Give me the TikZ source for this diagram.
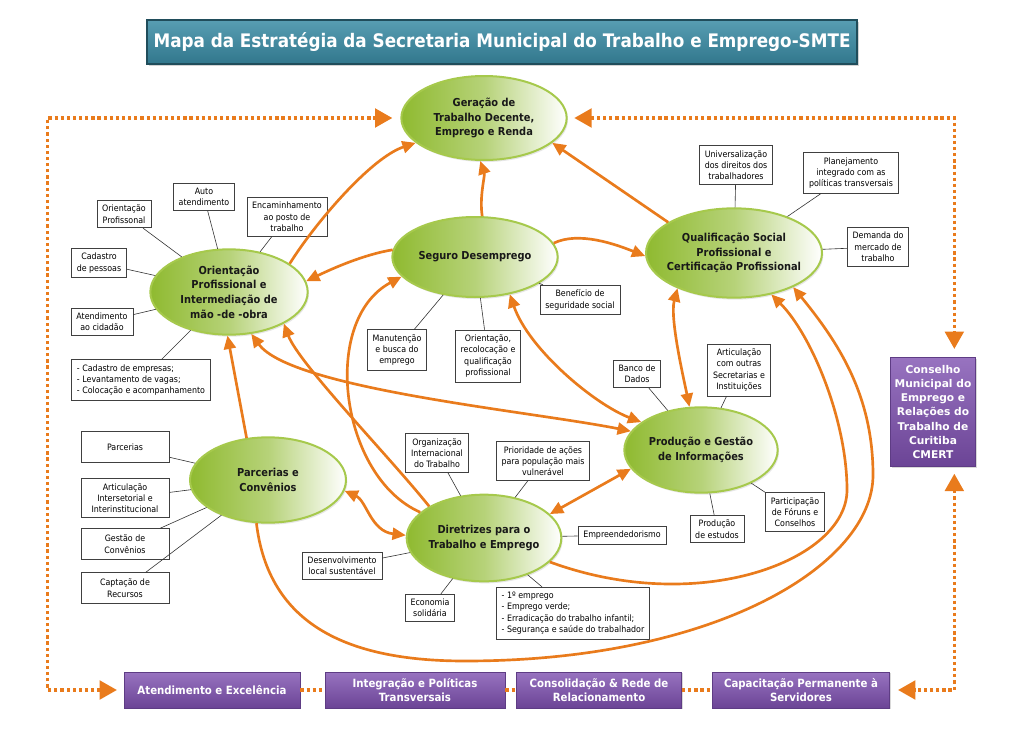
\documentclass[tikz,border=0pt]{standalone}
\usepackage{fontspec}
\setmainfont{DejaVu Sans}
\newfontfamily\narrowfont{DejaVu Sans Condensed}
\usetikzlibrary{shapes.geometric,arrows.meta,shadows}
\definecolor{Flow}{HTML}{E97B1C}
\definecolor{Lime}{HTML}{8FBA30}
\definecolor{Leaf}{HTML}{A6C94C}
\definecolor{Teal}{HTML}{3A8CA5}
\definecolor{Plum}{HTML}{7E50B0}

\tikzset{
  goal/.style={ellipse, draw=Leaf, line width=1.5pt, left color=Lime, right color=white, middle color=Lime!65,
    inner xsep=-8pt, inner ysep=0pt, align=center, text=black!90,
    font=\narrowfont\bfseries\fontsize{8.2}{11}\selectfont,
    drop shadow={opacity=.2, shadow xshift=1pt, shadow yshift=-1.5pt}},
  info/.style={draw=black!75, fill=white, line width=.5pt, align=center, inner xsep=4pt, inner ysep=3.5pt,
    font=\narrowfont\fontsize{6.6}{8.5}\selectfont},
  side/.style={minimum width=66pt, minimum height=23pt},
  link/.style={draw=black!80, line width=.45pt},
  flow/.style={draw=Flow, line width=2pt},
  dotline/.style={draw=Flow, line width=2.4pt, dash pattern=on 2.4pt off 2.2pt},
  dotflow/.style={dotline, {Triangle[length=13pt,width=14pt]}-{Triangle[length=13pt,width=14pt]},
    shorten <=5pt, shorten >=6pt},
  heading/.style={top color=Teal!85!white, bottom color=Teal!85!black, draw=Teal!55!black, line width=1.5pt,
    text=white, font=\narrowfont\bfseries\fontsize{14}{16}\selectfont, minimum width=532pt, minimum height=33pt,
    drop shadow={opacity=.35, shadow xshift=1.5pt, shadow yshift=-1.5pt}},
  plan/.style={top color=Plum!80!white, bottom color=Plum!85!black, draw=Plum!75!black, line width=.6pt,
    text=white, align=center, font=\narrowfont\bfseries\fontsize{8.5}{10.5}\selectfont, minimum height=27pt,
    drop shadow={opacity=.3, shadow xshift=1pt, shadow yshift=-1pt}},
  council/.style={plan, font=\bfseries\fontsize{8}{10.6}\selectfont, minimum width=64pt, minimum height=82pt}
}

\begin{document}
\begin{tikzpicture}[x=0.75pt,y=-0.75pt,>={Triangle[length=10pt,width=9pt]}]
\useasboundingbox (0,0) rectangle (1024,728);

\node[heading] (title) at (502,42) {Mapa da Estratégia da Secretaria Municipal do Trabalho e Emprego-SMTE};

% objetivos
\node[goal, minimum width=124pt, minimum height=63pt] (gen) at (484,118) {Geração de\\Trabalho Decente,\\Emprego e Renda};
\node[goal, minimum width=124pt, minimum height=60pt] (seg) at (475,257) {Seguro Desemprego};
\node[goal, minimum width=118pt, minimum height=64pt] (ori) at (229,292) {Orientação\\Profissional e\\Intermediação de\\mão -de -obra};
\node[goal, minimum width=132pt, minimum height=67pt] (qua) at (734,253) {Qualificação Social\\Profissional e\\Certificação Profissional};
\node[goal, minimum width=115pt, minimum height=64pt] (pro) at (701,450) {Produção e Gestão\\de Informações};
\node[goal, minimum width=117pt, minimum height=64pt] (par) at (268,480) {Parcerias e\\Convênios};
\node[goal, minimum width=116pt, minimum height=65pt] (dir) at (484,538) {Diretrizes para o\\Trabalho e Emprego};

% caixas ligadas a cada objetivo
\node[info] (op) at (124,214) {Orientação\\Profissonal};
\node[info] (au) at (204,197) {Auto\\atendimento};
\node[info] (en) at (287,217) {Encaminhamento\\ao posto de\\trabalho};
\node[info] (cp) at (99,263) {Cadastro\\de pessoas};
\node[info] (ac) at (102,322) {Atendimento\\ao cidadão};
\node[info, align=left] (lv) at (141,380) {- Cadastro de empresas;\\- Levantamento de vagas;\\- Colocação e acompanhamento};

\node[info] (mb) at (397,350) {Manutenção\\e busca do\\emprego};
\node[info] (rq) at (488,356) {Orientação,\\recolocação e\\qualificação\\profissional};
\node[info] (bs) at (580,300) {Benefício de\\seguridade social};

\node[info] (ud) at (736,165) {Universalização\\dos direitos dos\\trabalhadores};
\node[info] (pi) at (851,173) {Planejamento\\integrado com as\\políticas transversais};
\node[info] (dm) at (878,247) {Demanda do\\mercado de\\trabalho};

\node[info] (bd) at (637,374) {Banco de\\Dados};
\node[info] (as) at (739,370) {Articulação\\com outras\\Secretarias e\\Instituições};
\node[info] (pe) at (717,529) {Produção\\de estudos};
\node[info] (pf) at (795,512) {Participação\\de Fóruns e\\Conselhos};

\node[info, side] (pa) at (125,447) {Parcerias};
\node[info, side] (ai) at (125,498) {Articulação\\Intersetorial e\\Interinstitucional};
\node[info, side] (gc) at (125,544) {Gestão de\\Convênios};
\node[info, side] (cr) at (125,588) {Captação de\\Recursos};

\node[info] (oi) at (437,453) {Organização\\Internacional\\do Trabalho};
\node[info] (pv) at (543,461) {Prioridade de ações\\para população mais\\vulnerável};
\node[info] (ep) at (622,535) {Empreendedorismo};
\node[info] (ds) at (342,566) {Desenvolvimento\\local sustentável};
\node[info] (es) at (430,608) {Economia\\solidária};
\node[info, align=left] (pl) at (573,613) {- 1º emprego\\- Emprego verde;\\- Erradicação do trabalho infantil;\\- Segurança e saúde do trabalhador};

\foreach \a/\b in {op/ori,au/ori,en/ori,cp/ori,ac/ori,lv/ori,mb/seg,rq/seg,bs/seg,ud/qua,pi/qua,dm/qua,
    bd/pro,as/pro,pe/pro,pf/pro,pa/par,ai/par,gc/par,cr/par,oi/dir,pv/dir,ep/dir,ds/dir,es/dir,pl/dir}
  \draw[link] (\a) -- (\b);

% conselho e planos de gestao
\node[council] (cm) at (933,412) {Conselho\\Municipal do\\Emprego e\\Relações do\\Trabalho de\\Curitiba\\CMERT};
\node[plan, minimum width=132pt] (b1) at (212,690) {Atendimento e Excelência};
\node[plan, minimum width=135pt] (b2) at (415,690) {Integração e Políticas\\Transversais};
\node[plan, minimum width=124pt] (b3) at (599,690) {Consolidação \& Rede de\\Relacionamento};
\node[plan, minimum width=133pt] (b4) at (801,690) {Capacitação Permanente à\\Servidores};

% fluxos
\draw[flow,->] (ori.25) .. controls +(25,-40) and +(-45,15) .. (gen.200);
\draw[flow,->] (seg.80) .. controls +(-3,-20) and +(5,15) .. (gen.265);
\draw[flow,->] (qua.155) -- (gen.340);
\draw[flow,->] (seg.175) .. controls +(-30,5) and +(25,-12) .. (ori.8);
\draw[flow,->] (seg.10) .. controls +(25,-12) and +(-30,-12) .. (qua.182);
\draw[flow,->] (par.117) -- (ori.268);
\draw[flow,->] (dir.150) .. controls +(-40,-50) and +(15,40) .. (ori.330);
\draw[flow,->] (dir.158) .. controls +(-80,-35) and +(-82,44) .. (seg.195);
\draw[flow,<->] (ori.298) .. controls +(40,55) and +(-100,-20) .. (pro.165);
\draw[flow,<->] (seg.313) .. controls +(19,55) and +(-47,-18) .. (pro.155);
\draw[flow,<->] (qua.212) .. controls +(-8,30) and +(-5,-25) .. (pro.105);
\draw[flow,<->] (par.352) .. controls +(22,10) and +(-35,-4) .. (dir.178);
\draw[flow,<->] (dir.20) -- (pro.195);
\coordinate (bend) at (847,490);
\draw[flow,->] (dir.340) .. controls +(150,55) and +(0,70) .. (bend) .. controls +(0,-70) and +(40,40) .. (qua.312);
\coordinate (low) at (465,661);
\coordinate (rim) at (873,475);
\draw[flow,->] (par.255) .. controls +(12,100) and +(-120,0) .. (low) .. controls +(250,0) and +(0,90) .. (rim)
  .. controls +(0,-80) and +(45,55) .. (qua.330);

% pontilhado
\draw[dotflow] (b1.west) -- ++(-76,0) |- (gen.west);
\draw[dotflow] (gen.east) -| ([xshift=16pt]cm.north);
\draw[dotflow] ([xshift=16pt]cm.south) |- (b4.east);
\foreach \a/\b in {b1/b2,b2/b3,b3/b4}
  \draw[dotline] (\a.east) -- (\b.west);
\end{tikzpicture}
\end{document}
